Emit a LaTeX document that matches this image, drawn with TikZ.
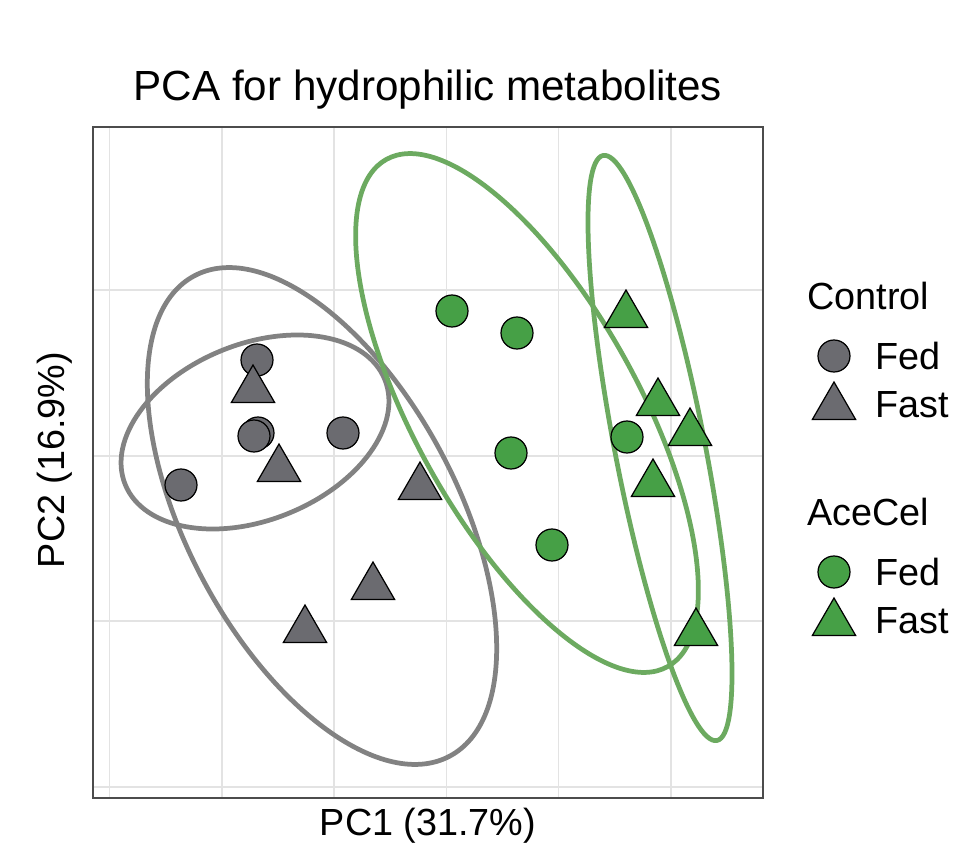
\documentclass[tikz,border=0pt]{standalone}
\usepackage{fontspec}
\setmainfont{Liberation Sans}
\usetikzlibrary{shapes.geometric}
\definecolor{ctrlfill}{HTML}{6B6B70}
\definecolor{ctrlline}{HTML}{828282}
\definecolor{acefill}{HTML}{46A046}
\definecolor{aceline}{HTML}{6CAA60}
\definecolor{gridgray}{HTML}{E3E3E3}
\tikzset{
  fedpt/.style={draw=black, circle, minimum size=32*0.02cm, inner sep=0pt, line width=0.7pt},
  fastpt/.style={draw=black, regular polygon, regular polygon sides=3, minimum size=50*0.02cm, inner sep=0pt, line width=0.7pt},
  ellline/.style={line width=2.7pt},
  lbl/.style={font=\fontsize{21.5}{25}\selectfont, inner sep=0pt}
}
\begin{document}
\begin{tikzpicture}[x=0.02cm, y=-0.02cm]
  \useasboundingbox (0,0) rectangle (978,862);
  % grid
  \foreach \gx in {109.6,222,334,446.6,558.6,671}
    \draw[gridgray, line width=1pt] (\gx,127) -- (\gx,798);
  \foreach \gy in {290,455.7,621,787}
    \draw[gridgray, line width=1pt] (93,\gy) -- (763,\gy);
  % ellipses
  \draw[ctrlline, ellline] (255,432) ellipse [x radius=140, y radius=88, rotate=22];
  \draw[ctrlline, ellline] (322,516) ellipse [x radius=272, y radius=135, rotate=-62];
  \draw[aceline, ellline] (527,413) ellipse [x radius=290, y radius=112, rotate=-61];
  \draw[aceline, ellline] (660,448) ellipse [x radius=298, y radius=45, rotate=-79];
  % Control Fed
  \node[fedpt, fill=ctrlfill] (cf1) at (257,360) {};
  \node[fedpt, fill=ctrlfill] (cf2) at (258,433) {};
  \node[fedpt, fill=ctrlfill] (cf3) at (254,436) {};
  \node[fedpt, fill=ctrlfill] (cf4) at (343,433) {};
  \node[fedpt, fill=ctrlfill] (cf5) at (181,485) {};
  % Control Fast
  \node[fastpt, fill=ctrlfill] (cs1) at (253,390) {};
  \node[fastpt, fill=ctrlfill] (cs2) at (279,469) {};
  \node[fastpt, fill=ctrlfill] (cs3) at (420,487) {};
  \node[fastpt, fill=ctrlfill] (cs4) at (373,587) {};
  \node[fastpt, fill=ctrlfill] (cs5) at (305,630) {};
  % AceCel Fed
  \node[fedpt, fill=acefill] (af1) at (452,311) {};
  \node[fedpt, fill=acefill] (af2) at (517,333) {};
  \node[fedpt, fill=acefill] (af3) at (511,453) {};
  \node[fedpt, fill=acefill] (af4) at (552,545) {};
  \node[fedpt, fill=acefill] (af5) at (627,437) {};
  % AceCel Fast
  \node[fastpt, fill=acefill] (as1) at (626,315) {};
  \node[fastpt, fill=acefill] (as2) at (658,403) {};
  \node[fastpt, fill=acefill] (as3) at (690,433) {};
  \node[fastpt, fill=acefill] (as4) at (653,484) {};
  \node[fastpt, fill=acefill] (as5) at (696,633) {};
  % panel
  \draw[black!70, line width=0.8pt] (93,127) rectangle (763,798);
  % titles
  \node[font=\fontsize{24}{28}\selectfont] (title) at (428,90) {PCA for hydrophilic metabolites};
  \node[lbl] (xlab) at (428,826) {PC1 (31.7\%)};
  \node[lbl, rotate=90] (ylab) at (55,460) {PC2 (16.9\%)};
  % legend
  \node[lbl, anchor=west] (lgctrl) at (807,296) {Control};
  \node[fedpt, fill=ctrlfill] (lgcf) at (834,356) {};
  \node[lbl, anchor=west] (lgcft) at (875,356) {Fed};
  \node[fastpt, fill=ctrlfill] (lgcs) at (834,407) {};
  \node[lbl, anchor=west] (lgcst) at (875,405) {Fast};
  \node[lbl, anchor=west] (lgace) at (807,512) {AceCel};
  \node[fedpt, fill=acefill] (lgaf) at (834,572) {};
  \node[lbl, anchor=west] (lgaft) at (875,572) {Fed};
  \node[fastpt, fill=acefill] (lgas) at (834,623) {};
  \node[lbl, anchor=west] (lgast) at (875,621) {Fast};
\end{tikzpicture}
\end{document}
